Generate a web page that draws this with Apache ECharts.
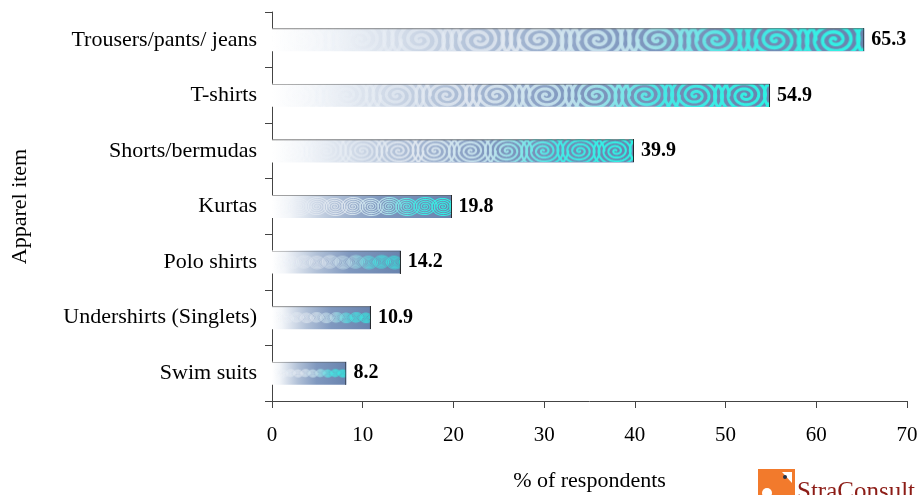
<!DOCTYPE html>
<html>
<head>
<meta charset="utf-8">
<script src="https://cdn.jsdelivr.net/npm/echarts@6/dist/echarts.min.js"></script>
<style>
  html, body { margin: 0; padding: 0; background: #fff; }
  #chart { width: 921px; height: 495px; }
</style>
</head>
<body>
<div id="chart"></div>
<script>
// Apparel items bought, share of respondents (%)
const categories = [
  'Trousers/pants/ jeans',
  'T-shirts',
  'Shorts/bermudas',
  'Kurtas',
  'Polo shirts',
  'Undershirts (Singlets)',
  'Swim suits'
];
const values = [65.3, 54.9, 39.9, 19.8, 14.2, 10.9, 8.2];
const xTicks = { min: 0, max: 70, step: 10 };

const FONT = '"Liberation Serif", "Times New Roman", serif';
const BAR_H = 23;

// Swirl texture for one bar, stretched along the bar's length
const texCache = {};
function swirlTexture(w, h) {
  const key = Math.round(w) + 'x' + Math.round(h);
  if (texCache[key]) return texCache[key];
  const c = document.createElement('canvas');
  c.width = Math.max(1, Math.round(w));
  c.height = Math.max(1, Math.round(h));
  const ctx = c.getContext('2d');
  const W = c.width, H = c.height;

  const spacing = W / 10;
  const R = spacing * 0.62;
  const turns = 5;
  const lw = Math.max(1, spacing * 0.06);
  const stroke = ctx.createLinearGradient(0, 0, W, 0);
  stroke.addColorStop(0, 'rgba(255,255,255,0)');
  stroke.addColorStop(0.1, 'rgba(236,241,247,0.4)');
  stroke.addColorStop(0.4, 'rgba(226,233,241,0.85)');
  stroke.addColorStop(0.6, 'rgba(195,228,238,0.9)');
  stroke.addColorStop(0.78, 'rgba(70,235,230,0.95)');
  stroke.addColorStop(1, 'rgba(45,242,228,1)');
  ctx.strokeStyle = stroke;
  ctx.lineWidth = lw;
  ctx.lineCap = 'round';

  const tMax = turns * Math.PI * 2;
  for (let k = 0; k < 11; k++) {
    const cx = spacing * (k + 0.5);
    const cy = H / 2;
    const dir = k % 2 === 0 ? 1 : -1;
    ctx.beginPath();
    let first = true;
    for (let t = 0.8; t <= tMax; t += 0.06) {
      const r = R * t / tMax;
      const x = cx + r * Math.cos(t * dir) * 1.1;
      const y = cy + r * Math.sin(t * dir) * 0.85;
      if (first) { ctx.moveTo(x, y); first = false; } else ctx.lineTo(x, y);
    }
    ctx.stroke();
  }

  // thin edges: top line and closing line at the bar end
  ctx.fillStyle = 'rgba(90,90,90,0.55)';
  ctx.fillRect(0, 0, W, 1);
  ctx.fillStyle = 'rgba(30,30,30,0.9)';
  ctx.fillRect(W - 1, 0, 1, H);

  texCache[key] = c;
  return c;
}

const chart = echarts.init(document.getElementById('chart'), null, { renderer: 'canvas' });

const option = {
  backgroundColor: '#ffffff',
  animation: false,
  grid: { left: 272, right: 14, top: 12, bottom: 94, outerBoundsMode: 'none', containLabel: false },
  xAxis: {
    type: 'value',
    min: xTicks.min,
    max: xTicks.max,
    interval: xTicks.step,
    name: '% of respondents',
    nameLocation: 'middle',
    nameGap: 69,
    nameTextStyle: { fontFamily: FONT, fontSize: 22, color: '#000' },
    axisLine: { show: true, lineStyle: { color: '#444', width: 1 } },
    axisTick: { show: true, length: 7, lineStyle: { color: '#444' } },
    axisLabel: { fontFamily: FONT, fontSize: 21, color: '#000', margin: 24 },
    splitLine: { show: false }
  },
  yAxis: {
    type: 'category',
    data: categories,
    inverse: true,
    name: 'Apparel item',
    nameLocation: 'middle',
    nameRotate: 90,
    nameGap: 241,
    nameTextStyle: { fontFamily: FONT, fontSize: 22, color: '#000' },
    axisLine: { show: true, lineStyle: { color: '#444', width: 1 } },
    axisTick: { show: true, length: 7, lineStyle: { color: '#444' } },
    axisLabel: { fontFamily: FONT, fontSize: 22, color: '#000', margin: 15 }
  },
  series: [
    {
      type: 'bar',
      z: 2,
      data: values,
      barWidth: BAR_H,
      itemStyle: {
        color: {
          type: 'linear', x: 0, y: 0, x2: 1, y2: 0,
          colorStops: [
            { offset: 0, color: '#ffffff' },
            { offset: 0.1, color: '#f2f5f9' },
            { offset: 0.35, color: '#b0c0d7' },
            { offset: 0.6, color: '#7f98bf' },
            { offset: 1, color: '#6983ae' }
          ]
        }
      },
      label: {
        show: true,
        position: 'right',
        distance: 7,
        fontFamily: FONT,
        fontSize: 20,
        fontWeight: 'bold',
        color: '#000',
        formatter: p => p.value.toFixed(1)
      }
    },
    {
      type: 'custom',
      z: 3,
      silent: true,
      data: values.map((v, i) => [v, i]),
      encode: { x: 0, y: 1 },
      renderItem: function (params, api) {
        const v = api.value(0);
        const cat = api.value(1);
        const start = api.coord([0, cat]);
        const end = api.coord([v, cat]);
        const w = end[0] - start[0];
        const h = BAR_H;
        return {
          type: 'image',
          z2: 10,
          style: {
            image: swirlTexture(w, h),
            x: start[0],
            y: start[1] - h / 2,
            width: w,
            height: h
          }
        };
      }
    }
  ],
  graphic: [
    {
      type: 'group',
      left: 758,
      top: 469,
      children: [
        { type: 'rect', shape: { x: 0, y: 0, width: 37, height: 40 }, style: { fill: '#f27a2c' } },
        { type: 'polygon', shape: { points: [[24, 3], [34, 3], [34, 14]] }, style: { fill: '#ffffff' } },
        { type: 'circle', shape: { cx: 27, cy: 8, r: 2 }, style: { fill: '#23324a' } },
        { type: 'circle', shape: { cx: 9, cy: 24, r: 5 }, style: { fill: '#ffffff' } }
      ]
    },
    {
      type: 'text',
      left: 797,
      top: 480,
      style: {
        text: 'StraConsult',
        font: '25px ' + FONT,
        fill: '#8c1c16'
      }
    }
  ]
};

chart.setOption(option);
</script>
</body>
</html>
